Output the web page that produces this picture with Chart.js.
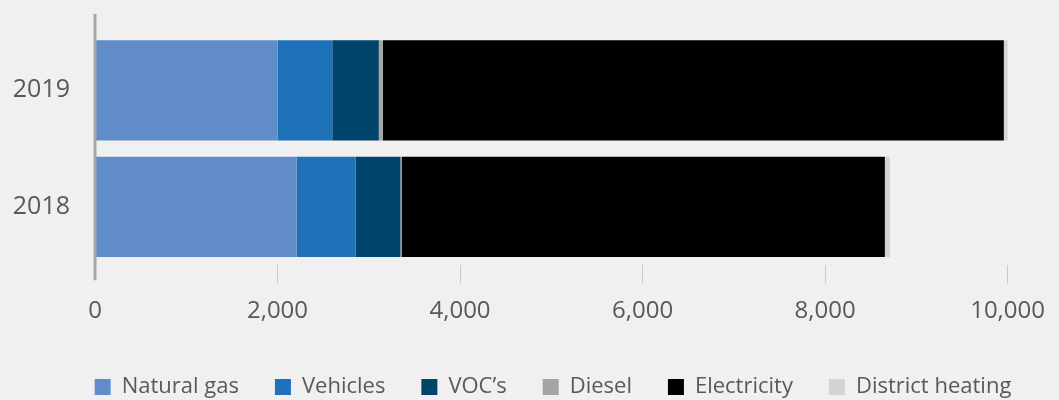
<!DOCTYPE html>
<html>
<head>
<meta charset="utf-8">
<script src="https://cdn.jsdelivr.net/npm/chart.js@4"></script>
<style>
  html, body { margin: 0; padding: 0; background: #f0f0f0; }
  #wrap { width: 1059px; height: 400px; }
</style>
</head>
<body>
<div id="wrap"><canvas id="emissions-chart"></canvas></div>
<script>
var years = ['2019', '2018'];
var naturalGas = [2000, 2210];
var vehicles = [600, 645];
var vocs = [510, 492];
var diesel = [44, 12];
var electricity = [6805, 5296];
var districtHeating = [55, 55];
var xTicks = [0, 2000, 4000, 6000, 8000, 10000];

var grey = '#595959';

// long y axis line, runs past the bars like in the original
var axisLine = {
    id: 'axisLine',
    afterDatasetsDraw: function (chart) {
        var ctx = chart.ctx;
        var x = chart.scales.x.getPixelForValue(0);
        ctx.save();
        ctx.strokeStyle = '#a6a6a6';
        ctx.lineWidth = 3;
        ctx.beginPath();
        ctx.moveTo(x, chart.chartArea.top - 18);
        ctx.lineTo(x, chart.chartArea.bottom + 15);
        ctx.stroke();
        ctx.restore();
    }
};

// legend sits a bit right of centre in the original
var legendShift = {
    id: 'legendShift',
    afterLayout: function (chart) {
        var lg = chart.legend;
        lg.left += 45;
        lg.right += 45;
    }
};

var emissions = document.getElementById('emissions-chart');

var emissionsChart = new Chart(emissions, {
    type: 'bar',
    data: {
        labels: years,
        datasets: [
            { label: 'Natural gas', data: naturalGas, backgroundColor: '#608dc9' },
            { label: 'Vehicles', data: vehicles, backgroundColor: '#1f72b8' },
            { label: 'VOC\u2019s', data: vocs, backgroundColor: '#00436b' },
            { label: 'Diesel', data: diesel, backgroundColor: '#a5a5a5' },
            { label: 'Electricity', data: electricity, backgroundColor: '#000000' },
            { label: 'District heating', data: districtHeating, backgroundColor: '#d4d4d4' }
        ]
    },
    options: {
        indexAxis: 'y',
        responsive: true,
        maintainAspectRatio: false,
        animation: false,
        layout: {
            padding: { top: 21, right: 43, left: 0, bottom: -8 }
        },
        datasets: {
            bar: { categoryPercentage: 1, barPercentage: 0.86 }
        },
        scales: {
            x: {
                stacked: true,
                min: 0,
                max: 10000,
                afterBuildTicks: function (scale) {
                    scale.ticks = xTicks.map(function (v) { return { value: v }; });
                },
                grid: {
                    drawOnChartArea: false,
                    tickLength: 18,
                    color: function (c) { return c.tick && c.tick.value === 0 ? 'rgba(0,0,0,0)' : '#c8c8c8'; },
                    lineWidth: 1
                },
                border: { display: false },
                ticks: {
                    color: grey,
                    padding: 14,
                    maxRotation: 0,
                    font: { family: 'Open Sans', size: 24 },
                    callback: function (v) { return v.toLocaleString('en-US'); }
                }
            },
            y: {
                stacked: true,
                afterFit: function (scale) { scale.width = 95; },
                grid: { display: false },
                border: { display: false },
                ticks: {
                    color: grey,
                    padding: 17,
                    font: { family: 'Open Sans', size: 25 }
                }
            }
        },
        plugins: {
            legend: {
                position: 'bottom',
                labels: {
                    color: grey,
                    boxWidth: 16,
                    boxHeight: 16,
                    padding: 36,
                    font: { family: 'Open Sans', size: 22 }
                }
            },
            tooltip: { enabled: false }
        }
    },
    plugins: [axisLine, legendShift]
});
</script>
</body>
</html>
